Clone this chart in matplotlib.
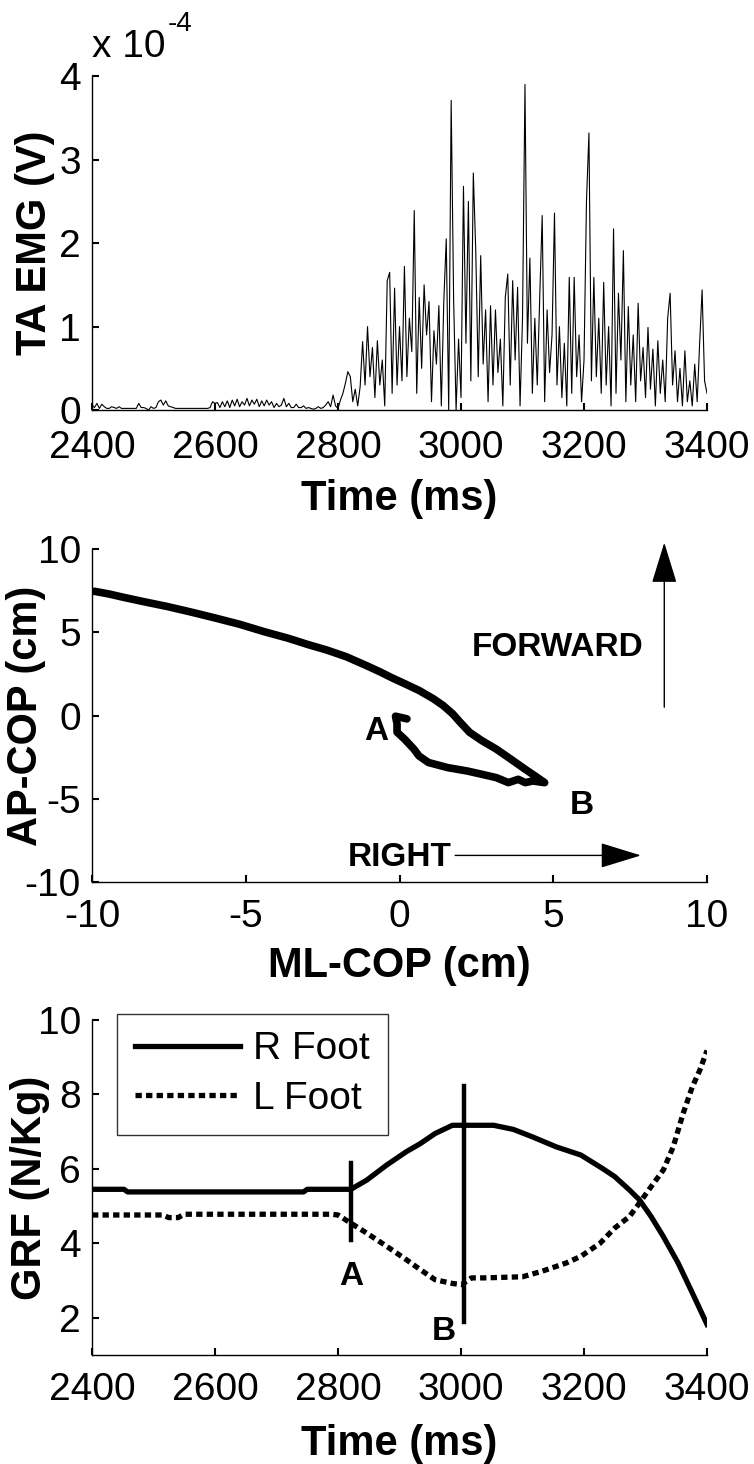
import numpy as np
import matplotlib
matplotlib.use("Agg")
import matplotlib.pyplot as plt

plt.rcParams['font.family'] = ['Liberation Sans', 'DejaVu Sans']
plt.rcParams['axes.unicode_minus'] = False

# --- TA EMG, x 1e-4 V, one sample every 4 ms from 2400 ms ---
emg_vals = [
    0.06, 0.03, 0.08, 0.02, 0.07, 0.04, 0.02, 0.02, 0.04, 0.03,
    0.02, 0.04, 0.02, 0.02, 0.02, 0.02, 0.02, 0.02, 0.02, 0.08,
    0.03, 0.03, 0.02, 0.00, 0.04, 0.02, 0.03, 0.10, 0.12, 0.06,
    0.11, 0.05, 0.04, 0.03, 0.02, 0.02, 0.02, 0.02, 0.02, 0.02,
    0.02, 0.02, 0.02, 0.02, 0.02, 0.02, 0.02, 0.02, 0.03, 0.10,
    0.08, 0.09, 0.03, 0.10, 0.04, 0.11, 0.03, 0.12, 0.05, 0.13,
    0.04, 0.10, 0.06, 0.14, 0.05, 0.12, 0.07, 0.13, 0.04, 0.11,
    0.05, 0.12, 0.06, 0.10, 0.03, 0.08, 0.04, 0.06, 0.14, 0.04,
    0.08, 0.03, 0.03, 0.07, 0.03, 0.03, 0.05, 0.02, 0.03, 0.02,
    0.01, 0.02, 0.04, 0.02, 0.03, 0.06, 0.10, 0.04, 0.18, 0.05,
    0.02, 0.12, 0.20, 0.32, 0.46, 0.40, 0.10, 0.25, 0.05, 0.28,
    0.82, 0.30, 1.00, 0.40, 0.75, 0.15, 0.83, 0.30, 0.60, 0.05,
    1.55, 1.65, 0.20, 1.46, 0.30, 1.00, 0.35, 1.72, 0.40, 1.10,
    0.70, 2.39, 0.20, 1.35, 0.50, 1.50, 0.90, 1.30, 0.10, 0.95,
    0.55, 1.25, 0.05, 1.30, 2.05, 0.00, 3.71, 1.32, 0.00, 0.85,
    0.15, 2.68, 0.80, 2.50, 0.35, 2.84, 1.90, 0.40, 1.85, 0.55,
    1.20, 0.10, 1.25, 0.30, 1.20, 0.45, 0.85, 0.05, 1.35, 1.63,
    0.30, 1.55, 0.60, 1.47, 0.05, 1.10, 3.90, 0.80, 1.82, 0.20,
    1.10, 0.30, 1.36, 2.33, 0.10, 1.20, 0.45, 0.90, 2.36, 0.30,
    1.00, 0.15, 0.80, 0.05, 1.59, 0.20, 1.59, 0.40, 0.90, 0.10,
    0.60, 2.50, 3.32, 0.35, 1.59, 0.40, 1.10, 0.20, 1.53, 0.30,
    1.00, 0.05, 2.17, 0.20, 1.40, 0.60, 1.91, 0.10, 1.24, 0.30,
    0.90, 0.10, 1.28, 0.35, 0.75, 0.15, 0.99, 0.25, 0.73, 0.05,
    0.83, 0.20, 0.60, 0.10, 1.10, 1.40, 0.30, 0.71, 0.10, 0.50,
    0.05, 0.71, 0.10, 0.35, 0.05, 0.55, 0.10, 0.80, 1.44, 0.35,
    0.20,
]
emg_time = 2400 + 4 * np.arange(len(emg_vals))

# --- centre of pressure path (cm): A -> B along the lower arc, then back up ---
ml_cop = [0.24, -0.13, -0.08, -0.08, 0.16, 0.47, 0.63, 0.94, 1.57, 2.20,
          2.68, 3.15, 3.54, 3.86, 4.09, 4.33, 4.72,
          4.41, 4.09, 3.62, 3.15, 2.68, 2.28, 1.97, 1.73, 1.42, 1.10, 0.63,
          0.16, -0.24, -0.63, -1.10, -1.73, -2.36, -2.99, -3.62, -4.41,
          -5.20, -5.98, -6.77, -7.56, -8.35, -8.98, -9.45, -9.92]
ap_cop = [-0.20, -0.04, -0.50, -1.00, -1.41, -2.02, -2.42, -2.82, -3.13, -3.33,
          -3.53, -3.73, -4.03, -3.83, -4.03, -3.93, -4.03,
          -3.63, -3.23, -2.62, -2.02, -1.51, -1.01, -0.40, 0.10, 0.60, 1.01, 1.51,
          1.92, 2.26, 2.62, 3.02, 3.53, 3.93, 4.27, 4.64, 5.04,
          5.48, 5.85, 6.21, 6.55, 6.85, 7.10, 7.30, 7.46]

# --- ground reaction force (N/Kg) ---
r_time = [2400, 2452, 2458, 2744, 2750, 2821, 2847, 2879, 2911, 2934, 2958,
          2986, 3053, 3085, 3116, 3155, 3195, 3230, 3250, 3274, 3290, 3309,
          3329, 3353, 3376, 3400]
r_grf = [5.45, 5.45, 5.38, 5.38, 5.45, 5.45, 5.70, 6.10, 6.46, 6.68, 6.95,
         7.17, 7.17, 7.06, 6.86, 6.59, 6.37, 6.01, 5.79, 5.43, 5.17, 4.72,
         4.18, 3.47, 2.67, 1.82]
l_time = [2400, 2515, 2525, 2540, 2550, 2790, 2800, 2821, 2847, 2879, 2911,
          2934, 2958, 2986, 3001, 3017, 3037, 3100, 3132, 3171, 3195, 3226,
          3250, 3274, 3290, 3309, 3329, 3345, 3361, 3376, 3388, 3400]
l_grf = [4.76, 4.76, 4.69, 4.69, 4.78, 4.78, 4.76, 4.54, 4.27, 3.92, 3.56,
         3.29, 3.02, 2.92, 2.89, 3.07, 3.07, 3.10, 3.25, 3.47, 3.65, 4.00,
         4.41, 4.72, 5.08, 5.52, 5.97, 6.59, 7.48, 8.20, 8.64, 9.18]
event_names = ['A', 'B']
event_time = [2821, 3005]
event_lo = [4.09, 1.88]
event_hi = [6.16, 8.22]

TICK = 28
LAB = 30
ANN = 24


def matlab_axes(ax, ylab_x, xpad=12):
    ax.spines['top'].set_visible(False)
    ax.spines['right'].set_visible(False)
    for s in ('left', 'bottom'):
        ax.spines[s].set_linewidth(1.0)
    ax.tick_params(direction='in', length=5, width=1.5, labelsize=TICK)
    ax.tick_params(axis='x', pad=xpad)
    ax.tick_params(axis='y', pad=8)
    ax.yaxis.set_label_coords(ylab_x, 0.5)
    ax.yaxis.label.set_va('center')


fig = plt.figure(figsize=(7.54, 14.64), dpi=100)

# ---- top: EMG ----
ax1 = fig.add_axes([0.122, 0.7199, 0.8157, 0.2281])
ax1.plot(emg_time, emg_vals, color='k', lw=0.8)
ax1.set_xlim(2400, 3400)
ax1.set_ylim(0, 4)
ax1.set_xticks(range(2400, 3401, 200))
ax1.set_yticks([0, 1, 2, 3, 4])
ax1.set_xlabel('Time (ms)', fontsize=LAB, fontweight='bold', labelpad=10)
ax1.set_ylabel('TA EMG (V)', fontsize=LAB, fontweight='bold')
matlab_axes(ax1, -0.093, xpad=14)
fig.text(92 / 754, 1 - 47 / 1464, 'x 10', fontsize=TICK, va='center', ha='left')
fig.text(168 / 754, 1 - 24 / 1464, '-4', fontsize=20, va='center', ha='left')

# ---- middle: COP ----
ax2 = fig.add_axes([0.122, 0.3975, 0.8157, 0.2275])
ax2.plot(ml_cop, ap_cop, color='k', lw=5.5, solid_capstyle='round',
         solid_joinstyle='round')
ax2.set_xlim(-10, 10)
ax2.set_ylim(-10, 10)
ax2.set_xticks([-10, -5, 0, 5, 10])
ax2.set_yticks([-10, -5, 0, 5, 10])
ax2.set_xlabel('ML-COP (cm)', fontsize=LAB, fontweight='bold', labelpad=8)
ax2.set_ylabel('AP-COP (cm)', fontsize=LAB, fontweight='bold')
matlab_axes(ax2, -0.108)
ax2.text(-0.76, -0.97, 'A', fontsize=ANN, fontweight='bold', ha='center', va='center')
ax2.text(5.94, -5.38, 'B', fontsize=ANN, fontweight='bold', ha='center', va='center')
ax2.text(5.15, 4.09, 'FORWARD', fontsize=ANN, fontweight='bold', ha='center', va='center')
ax2.text(0.0, -8.5, 'RIGHT', fontsize=ANN, fontweight='bold', ha='center', va='center')
arrow = dict(arrowstyle='-|>,head_length=1.3,head_width=0.4', color='k', lw=1,
             shrinkA=0, shrinkB=0, mutation_scale=20)
ax2.annotate('', xy=(8.61, 10.38), xytext=(8.61, 0.5), arrowprops=arrow,
             annotation_clip=False)
ax2.annotate('', xy=(7.85, -8.4), xytext=(1.81, -8.4), arrowprops=arrow,
             annotation_clip=False)

# ---- bottom: GRF ----
ax3 = fig.add_axes([0.122, 0.0745, 0.8157, 0.2288])
ax3.plot(r_time, r_grf, color='k', lw=3.8, label='R Foot')
ax3.plot(l_time, l_grf, color='k', lw=3.8, linestyle=(0, (1.2, 0.8)),
         label='L Foot')
for name, t, lo, hi in zip(event_names, event_time, event_lo, event_hi):
    ax3.plot([t, t], [lo, hi], color='k', lw=3.2)
ax3.text(2821, 3.11, 'A', fontsize=ANN, fontweight='bold', ha='center', va='center')
ax3.text(2972, 1.64, 'B', fontsize=ANN, fontweight='bold', ha='center', va='center')
ax3.set_xlim(2400, 3400)
ax3.set_ylim(1, 10)
ax3.set_xticks(range(2400, 3401, 200))
ax3.set_yticks([2, 4, 6, 8, 10])
ax3.set_xlabel('Time (ms)', fontsize=LAB, fontweight='bold', labelpad=12)
ax3.set_ylabel('GRF (N/Kg)', fontsize=LAB, fontweight='bold')
matlab_axes(ax3, -0.1)
leg = ax3.legend(loc='upper left', bbox_to_anchor=(0.041, 1.018), fontsize=TICK,
                 frameon=True, fancybox=False, borderaxespad=0, borderpad=0.45,
                 handlelength=2.7, handletextpad=0.35, labelspacing=0.35)
leg.get_frame().set_edgecolor('k')
leg.get_frame().set_linewidth(1.0)

fig.savefig('out.png', dpi=100, facecolor='white')
